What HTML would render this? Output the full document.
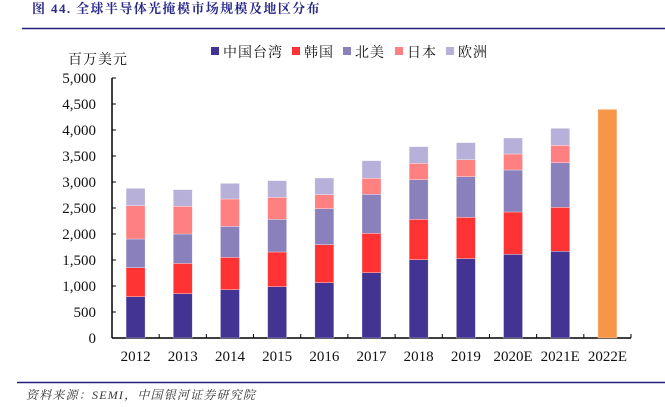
<!DOCTYPE html>
<html><head><meta charset="utf-8"><style>
body{margin:0;background:#fff;width:665px;height:402px;overflow:hidden;font-family:"Liberation Serif","Noto Serif CJK SC",serif}
</style></head><body>
<svg id="c" width="665" height="402" xmlns="http://www.w3.org/2000/svg">
<text x="32" y="13" font-size="13" font-weight="bold" letter-spacing="1.4" fill="#2a2a8a" font-family="Liberation Serif,Noto Serif CJK SC,serif">图 44. 全球半导体光掩模市场规模及地区分布</text>
<line x1="22" y1="28.5" x2="665" y2="28.5" stroke="#23207c" stroke-width="1.5"/>
<line x1="17" y1="382.5" x2="665" y2="382.5" stroke="#23207c" stroke-width="1.5"/>
<text x="26" y="399" font-size="12" font-style="italic" letter-spacing="1.2" fill="#333">资料来源：SEMI，中国银河证券研究院</text>
<text x="68" y="64" font-size="14" letter-spacing="1" fill="#111">百万美元</text>
<g id="legend"></g>
<g id="axes"></g><g id="bars"></g>
</svg>
<script>
const categories=["2012","2013","2014","2015","2016","2017","2018","2019","2020E","2021E","2022E"];
const taiwan=[794,852,930,987,1064,1256,1506,1526,1609,1667,0];
const korea=[558,584,621,667,731,757,776,795,814,846,0];
const northAmerica=[552,564,596,628,692,750,763,782,808,859,0];
const japan=[641,532,526,423,269,308,314,326,307,333,0];
const europe=[333,321,301,321,321,339,320,327,308,327,0];
const total2022=[0,0,0,0,0,0,0,0,0,0,4397];
const yTicks=[0,500,1000,1500,2000,2500,3000,3500,4000,4500,5000];
const seriesNames=["中国台湾","韩国","北美","日本","欧洲"];
const series=[taiwan,korea,northAmerica,japan,europe,total2022];
const colors=["#433494","#ff3333","#8a80bb","#ff8080","#b7b0d8","#f79646"];
const NS="http://www.w3.org/2000/svg";
const x0=112,x1=631,y0=338,yTop=78,maxV=5000;
const step=(x1-x0)/categories.length,bw=19;
const y=v=>y0-(v/maxV)*(y0-yTop);
const xc=i=>x0+step*(i+0.5);
function mk(p,t,a){const e=document.createElementNS(NS,t);for(const k in a)e.setAttribute(k,a[k]);p.appendChild(e);return e;}
const ax=document.getElementById('axes'),bars=document.getElementById('bars'),lg=document.getElementById('legend');
let l=mk(ax,'line',{x1:x0,y1:yTop,x2:x0,y2:y0,stroke:'#000','stroke-width':1.5});


l=mk(ax,'line',{x1:x0,y1:y0,x2:x1,y2:y0,stroke:'#000','stroke-width':1.5});


yTicks.forEach(v=>{
 const tk=mk(ax,'line',{x1:x0,y1:y(v),x2:x0+4,y2:y(v),stroke:'#000'});
 
 
 const t=mk(ax,'text',{x:x0-16,y:y(v)+5,'text-anchor':'end','font-size':15,fill:'#111'});
 t.textContent=v.toLocaleString('en-US');
 
 
});
categories.forEach((c,i)=>{
 const tk=mk(ax,'line',{x1:x0+step*(i+1),y1:y0,x2:x0+step*(i+1),y2:y0-4,stroke:'#000'});
 
 
 const t=mk(ax,'text',{x:xc(i),y:361,'text-anchor':'middle','font-size':15,fill:'#111'});
 t.textContent=c;
 
 
 let acc=0;
 series.forEach((s,k)=>{
  if(!s[i])return;
  const r=mk(bars,'rect',{x:xc(i)-bw/2,y:y(acc+s[i]),width:bw,height:y(acc)-y(acc+s[i]),fill:colors[k],stroke:'rgba(255,255,255,0.5)','stroke-width':0.6});
  
  
  acc+=s[i];
 });
});
const lx=[211,292,343,395,446];
seriesNames.forEach((n,k)=>{
 const r=mk(lg,'rect',{x:lx[k],y:47,width:8,height:8,fill:colors[k]});
 
 
 const t=mk(lg,'text',{x:lx[k]+12,y:57,'font-size':14,'letter-spacing':1,fill:'#111'});
 t.textContent=n;
 
 
});
</script>
</body></html>
